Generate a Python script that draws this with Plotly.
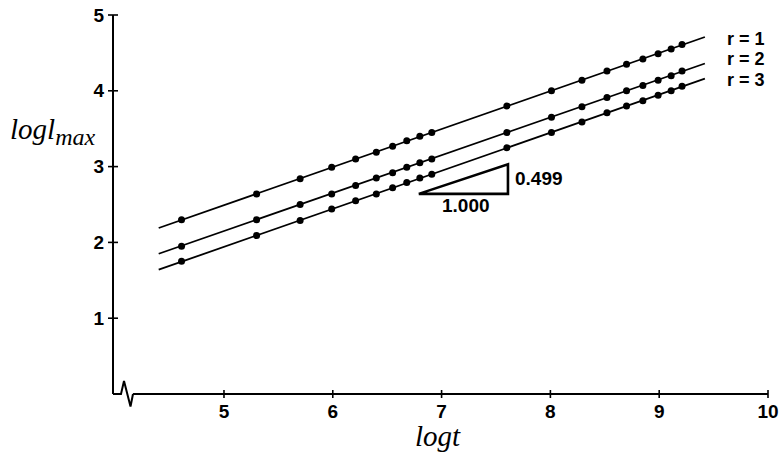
import plotly.graph_objects as go

# ---- data ----
log_t = [4.61, 5.30, 5.70, 5.99, 6.21, 6.40, 6.55, 6.68, 6.80, 6.91,
         7.60, 8.01, 8.29, 8.52, 8.70, 8.85, 8.99, 9.11, 9.21]
r1_logl = [2.30, 2.64, 2.84, 2.99, 3.10, 3.19, 3.27, 3.34, 3.40, 3.45,
           3.80, 4.00, 4.14, 4.26, 4.35, 4.42, 4.49, 4.55, 4.61]
r2_logl = [1.95, 2.30, 2.50, 2.64, 2.75, 2.85, 2.92, 2.99, 3.05, 3.10,
           3.45, 3.65, 3.79, 3.91, 4.00, 4.07, 4.14, 4.20, 4.26]
r3_logl = [1.75, 2.09, 2.29, 2.44, 2.55, 2.64, 2.72, 2.79, 2.85, 2.90,
           3.25, 3.45, 3.59, 3.71, 3.80, 3.87, 3.94, 4.00, 4.06]

fit_t = [4.40, 9.42]
r1_fit = [2.19, 4.71]
r2_fit = [1.85, 4.36]
r3_fit = [1.64, 4.16]

series_names = ["r = 1", "r = 2", "r = 3"]
label_y = [4.69, 4.415, 4.14]

tri_t = [6.79, 7.61, 7.61, 6.79]
tri_l = [2.64, 2.64, 3.03, 2.64]
slope_text = "0.499"
run_text = "1.000"

x_ticks = [5, 6, 7, 8, 9, 10]
y_ticks = [1, 2, 3, 4, 5]
X_MIN, X_MAX = 3.98, 10.0
Y_MIN, Y_MAX = 0.0, 5.0
X_AXIS_START = 4.164  # where the horizontal axis resumes after the break

SANS = "Liberation Sans, Arial, sans-serif"
SERIF = "Liberation Serif, Times New Roman, serif"
TICK_FONT = dict(family=SANS, size=19, color="black", weight="bold")
TEXT_FONT = dict(family=SANS, size=18, color="black", weight="bold")


def px(v):
    return (v - X_MIN) / (X_MAX - X_MIN)


def py(v):
    return (v - Y_MIN) / (Y_MAX - Y_MIN)


fig = go.Figure()
for fy in (r1_fit, r2_fit, r3_fit):
    fig.add_trace(go.Scatter(x=fit_t, y=fy, mode="lines",
                             line=dict(color="black", width=1.8),
                             showlegend=False, hoverinfo="skip", cliponaxis=False))
for ys in (r1_logl, r2_logl, r3_logl):
    fig.add_trace(go.Scatter(x=log_t, y=ys, mode="markers",
                             marker=dict(color="black", size=7),
                             showlegend=False, cliponaxis=False))
# slope triangle
fig.add_trace(go.Scatter(x=tri_t, y=tri_l, mode="lines",
                         line=dict(color="black", width=2.6),
                         showlegend=False, hoverinfo="skip"))

AX = dict(color="black", width=2)
shapes = []
# y axis line
shapes.append(dict(type="line", xref="paper", yref="paper", x0=0, x1=0, y0=0, y1=1, line=AX))
# x axis break zigzag (pixel offsets from the origin corner)
shapes.append(dict(type="path", xref="paper", yref="paper", xsizemode="pixel", ysizemode="pixel",
                   xanchor=0, yanchor=0,
                   path="M0,0 L8,0 L11,13 L17.5,-12.5 L20,0", line=AX))
shapes.append(dict(type="line", xref="paper", yref="paper", x0=px(X_AXIS_START), x1=1,
                   y0=0, y1=0, line=AX))
# crossing tick marks
for v in y_ticks:
    shapes.append(dict(type="line", xref="paper", yref="paper", xsizemode="pixel", xanchor=0,
                       x0=-5, x1=5, y0=py(v), y1=py(v), line=dict(color="black", width=1.6)))
for v in x_ticks:
    shapes.append(dict(type="line", xref="paper", yref="paper", ysizemode="pixel", yanchor=0,
                       y0=-4, y1=4, x0=px(v), x1=px(v), line=dict(color="black", width=1.6)))

annotations = []
for name, yy in zip(series_names, label_y):
    annotations.append(dict(x=9.605, y=yy, xref="x", yref="y", text=name, showarrow=False,
                            xanchor="left", yanchor="middle", font=TEXT_FONT))
annotations.append(dict(x=7.66, y=2.84, xref="x", yref="y", text=slope_text, showarrow=False,
                        xanchor="left", yanchor="middle", font=TICK_FONT))
annotations.append(dict(x=7.22, y=2.49, xref="x", yref="y", text=run_text, showarrow=False,
                        xanchor="center", yanchor="middle", font=TICK_FONT))

W, H = 783, 456
ML, MR, MT, MB = 113, 15, 15, 62
pw, ph = W - ML - MR, H - MT - MB

# axis titles (positions given in pixels, converted to paper fractions)
annotations.append(dict(x=(438 - ML) / pw, y=(H - MB - 436) / ph, xref="paper", yref="paper",
                        text="<i>logt</i>", showarrow=False, xanchor="center", yanchor="middle",
                        font=dict(family=SERIF, size=29, color="black")))
annotations.append(dict(x=(8 - ML) / pw, y=(H - MB - 131) / ph, xref="paper", yref="paper",
                        text="<i>logl<sub><span style='font-size:24px'>max</span></sub></i>",
                        showarrow=False, xanchor="left", yanchor="middle",
                        font=dict(family=SERIF, size=29, color="black")))

fig.update_layout(
    width=W, height=H,
    margin=dict(l=ML, r=MR, t=MT, b=MB, autoexpand=False),
    paper_bgcolor="white", plot_bgcolor="white",
    shapes=shapes, annotations=annotations,
    xaxis=dict(range=[X_MIN, X_MAX], tickvals=x_ticks, ticktext=[str(v) for v in x_ticks],
               showgrid=False, zeroline=False, showline=False, automargin=False,
               ticks="outside", ticklen=0, tickcolor="rgba(0,0,0,0)", tickfont=TICK_FONT),
    yaxis=dict(range=[Y_MIN, Y_MAX], tickvals=y_ticks, ticktext=[str(v) for v in y_ticks],
               showgrid=False, zeroline=False, showline=False, automargin=False,
               ticks="outside", ticklen=4, tickcolor="rgba(0,0,0,0)", tickfont=TICK_FONT),
)

fig.write_html("out.html")
